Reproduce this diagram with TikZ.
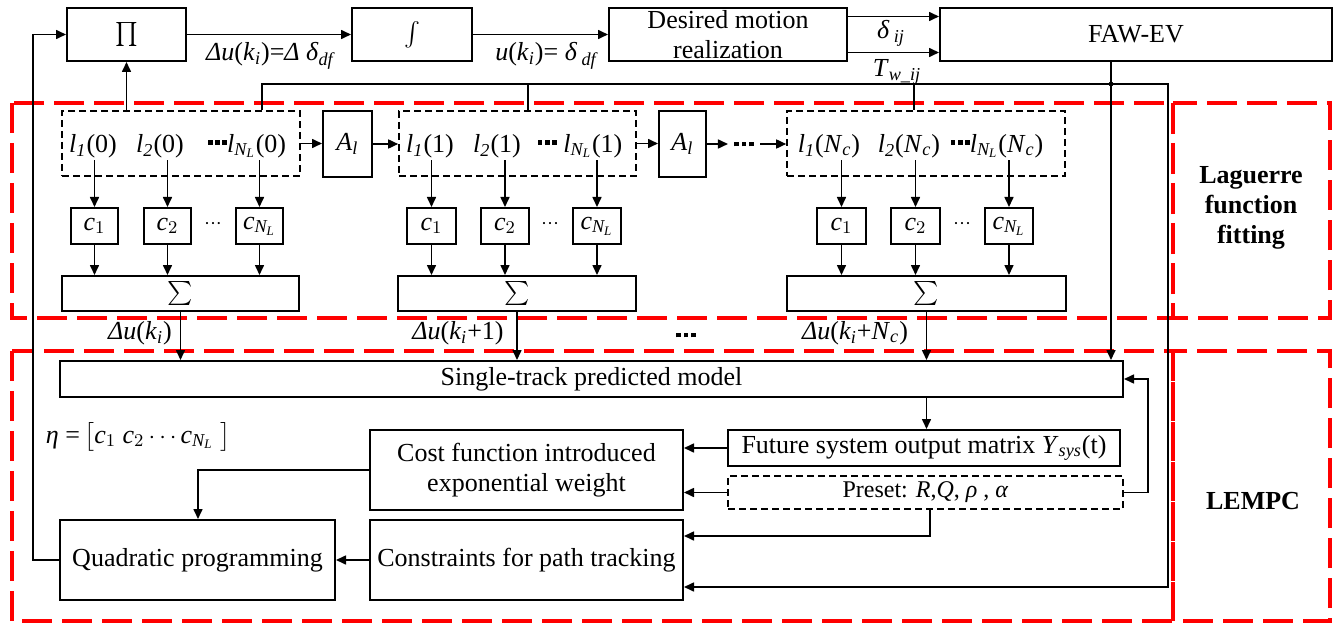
\documentclass[tikz,border=0pt]{standalone}
\usepackage{amsmath}
\usepackage{fontspec}
\setmainfont{Liberation Serif}
\usetikzlibrary{arrows.meta,calc}

% italic letters and italic subscripts in the text font
\newcommand\mv[1]{\textit{#1}}
\newcommand\sbi[1]{$_{\textit{#1}}$}
\newcommand\subNL{$_{\textit{N}_{\textit{L}}}$}
% heavy square dots
\newcommand\sqdot[1]{\raisebox{#1}{\rule{0.18em}{0.18em}}}
\newcommand\heavydots[1][0.28em]{\sqdot{#1}\hspace{0.1em}\sqdot{#1}\hspace{0.1em}\sqdot{#1}}
\newcommand\figfont{\fontsize{13}{15}\selectfont}
% block given by its corners: name, x1, y1, x2, y2, style, text
\newcommand\blockat[7]{\node[#6, minimum width={(#4-#2)*0.5pt}, minimum height={(#5-#3)*0.5pt}] (#1) at ({(#2+#4)/2},{(#3+#5)/2}) {#7};}

\begin{document}
\begin{tikzpicture}[x=0.5pt,y=-0.5pt,font=\figfont,
  box/.style={draw, line width=1pt, inner sep=0pt, align=center, fill=white},
  dbox/.style={draw, line width=0.8pt, dash pattern=on 3.5pt off 2pt, inner sep=0pt, align=center},
  arr/.style={line width=0.8pt, -{Triangle[length=5pt,width=4.5pt]}},
  ln/.style={line width=0.8pt},
  region/.style={draw=red, line width=2pt, dash pattern=on 15pt off 5pt},
  txt/.style={inner sep=0pt}]
\useasboundingbox (0,0) rectangle (1340,626);

% red dashed regions
\draw[region] (12,103) rectangle (1173,318);
\draw[region] (1173,103) rectangle (1330,318);
\draw[region] (12,351) rectangle (1173,621);
\draw[region] (1173,351) rectangle (1330,621);
\node[font=\figfont\bfseries, align=center] (lagtitle) at (1251,208) {Laguerre\\function\\fitting};
\node[font=\figfont\bfseries] (mpctitle) at (1253,501) {LEMPC};

% top row
\blockat{pi}{67}{8}{186}{61}{box}{$\prod$}
\blockat{intg}{352}{8}{472}{61}{box}{$\int$}
\blockat{dmr}{609}{8}{847}{61}{box}{Desired motion\\realization}
\blockat{faw}{940}{8}{1332}{61}{box}{FAW-EV}
\node[txt] (du0) at (270,56) {\mv{Δu}(\mv{k}\sbi{i})=\mv{Δ} \mv{δ}\sbi{df}};
\node[txt] (u0) at (546,56) {\mv{u}(\mv{k}\sbi{i})= \mv{δ}\,\sbi{df}};
\node[txt] (dij) at (891,33) {\mv{δ}\,\sbi{ij}};
\node[txt] (twij) at (897,72) {\mv{T}\sbi{w\_ij}};
\draw[arr] (pi) -- (intg);
\draw[arr] (intg) -- (dmr);
\draw[arr] ([yshift=9pt]dmr.east) -- ([yshift=9pt]faw.west);
\draw[arr] ([yshift=-9pt]dmr.east) -- ([yshift=-9pt]faw.west);

% Laguerre function blocks
\blockat{lb1}{62}{111}{300}{176}{dbox}{}
\blockat{lb2}{399}{111}{636}{176}{dbox}{}
\blockat{lb3}{787}{111}{1065}{176}{dbox}{}
\blockat{al1}{323}{111}{372}{177}{box}{\mv{A}\sbi{l}}
\blockat{al2}{659}{111}{706}{177}{box}{\mv{A}\sbi{l}}
\node[txt] (l1a) at (93,146) {\mv{l}\sbi{1}(0)};
\node[txt] (l2a) at (160,146) {\mv{l}\sbi{2}(0)};
\node[txt] (lna) at (247,146) {\heavydots\mv{l}\subNL(0)};
\node[txt] (l1b) at (430,146) {\mv{l}\sbi{1}(1)};
\node[txt] (l2b) at (497,146) {\mv{l}\sbi{2}(1)};
\node[txt] (lnb) at (580,146) {\heavydots\ \mv{l}\subNL(1)};
\node[txt] (l1c) at (829,146) {\mv{l}\sbi{1}(\mv{N}\sbi{c})};
\node[txt] (l2c) at (909,146) {\mv{l}\sbi{2}(\mv{N}\sbi{c})};
\node[txt] (lnc) at (997,146) {\heavydots\mv{l}\subNL(\mv{N}\sbi{c})};
\node[inner xsep=3pt, inner ysep=0pt] (gd) at (744,144) {\heavydots[0pt]};

\blockat{ca1}{71}{208}{118}{244}{box}{\mv{c}$_1$}
\blockat{ca2}{144}{208}{191}{244}{box}{\mv{c}$_2$}
\blockat{ca3}{236}{208}{283}{244}{box}{\mv{c}\subNL}
\blockat{cb1}{407}{208}{456}{244}{box}{\mv{c}$_1$}
\blockat{cb2}{481}{208}{529}{244}{box}{\mv{c}$_2$}
\blockat{cb3}{573}{208}{621}{244}{box}{\mv{c}\subNL}
\blockat{cc1}{817}{208}{866}{244}{box}{\mv{c}$_1$}
\blockat{cc2}{891}{208}{940}{244}{box}{\mv{c}$_2$}
\blockat{cc3}{985}{208}{1033}{244}{box}{\mv{c}\subNL}
\node[txt, font=\fontsize{9}{9}\selectfont] (da) at (213,226) {···};
\node[txt, font=\fontsize{9}{9}\selectfont] (db) at (550,226) {···};
\node[txt, font=\fontsize{9}{9}\selectfont] (dc) at (962,226) {···};

\blockat{s1}{62}{276}{299}{311}{box}{$\sum$}
\blockat{s2}{398}{276}{636}{311}{box}{$\sum$}
\blockat{s3}{787}{276}{1066}{311}{box}{$\sum$}

\draw[arr] (lb1.east) -- (lb1.east -| al1.west);
\draw[arr] (al1.east) -- (al1.east -| lb2.west);
\draw[arr] (lb2.east) -- (lb2.east -| al2.west);
\draw[arr] (al2.east) -- (al2.east -| gd.west);
\draw[arr] (gd.east) -- (gd.east -| lb3.west);

\foreach \l/\c/\s in {l1a/ca1/s1, l2a/ca2/s1, lna/ca3/s1,
                      l1b/cb1/s2, l2b/cb2/s2, lnb/cb3/s2,
                      l1c/cc1/s3, l2c/cc2/s3, lnc/cc3/s3}{
  \draw[arr] ([yshift=-1pt]\c.north |- \l.south) -- (\c.north);
  \draw[arr] (\c.south) -- (\c.south |- \s.north);
}

% feedback taps from the plant
\coordinate (tapA) at (262,84);
\coordinate (tapB) at (528,84);
\coordinate (tapC) at (914,84);
\coordinate (jn) at (1111,84);
\coordinate (tapR) at (1168,84);
\coordinate (rbend) at (1168,587);
\draw[ln] (tapB |- lb2.north) -- (tapB);
\draw[ln] (tapC |- lb3.north) -- (tapC);
\draw[arr] (pi.south |- lb1.north) -- (pi.south);

% predictive control part
\blockat{stm}{60}{361}{1123}{397}{box}{Single-track predicted model}
\blockat{cost}{370}{430}{683}{510}{box}{Cost function introduced\\exponential weight}
\blockat{fut}{728}{430}{1120}{466}{box}{Future system output matrix \mv{Y}\sbi{sys}(t)}
\blockat{pre}{728}{476}{1123}{509}{dbox}{{\fontsize{12}{14}\selectfont Preset: \mv{R},\mv{Q}, \mv{ρ} , \mv{α}}}
\blockat{cons}{370}{520}{683}{600}{box}{Constraints for path tracking}
\blockat{qp}{60}{520}{335}{600}{box}{Quadratic programming}
\node[txt] (eta) at (138,437) {\mv{η} =\,$\bigl[$\mv{c}$_1$ \mv{c}$_2$\,$\cdots$\mv{c}\subNL\ $\bigr]$};

\node[txt] (dua) at (140,333) {\mv{Δu}(\mv{k}\sbi{i})};
\node[txt] (dub) at (458,333) {\mv{Δu}(\mv{k}\sbi{i}+1)};
\node[txt] (dud) at (686,335) {\heavydots[0pt]};
\node[txt] (duc) at (855,333) {\mv{Δu}(\mv{k}\sbi{i}+\mv{N}\sbi{c})};

\draw[arr] (s1.south) -- (s1.south |- stm.north);
\draw[arr] (s2.south) -- (s2.south |- stm.north);
\draw[arr] (s3.south) -- (s3.south |- stm.north);

\draw[arr] (tapA |- lb1.north) -- (tapA) -- (tapR) -- (rbend) -- (rbend -| cons.east);
\draw[arr] (jn |- faw.south) -- (jn |- stm.north);
\fill (jn) circle (1.2pt);

\draw[arr] (stm.south -| s3.south) -- (fut.north -| s3.south);
\draw[arr] (fut.west) -- (fut.west -| cost.east);
\draw[arr] (pre.west) -- (pre.west -| cost.east);
\draw[arr] (pre.east) -- ++(24,0) |- (stm.east);
\coordinate (pbend) at (930,536);
\draw[arr] (pre.south -| pbend) -- (pbend) -- (pbend -| cons.east);
\draw[arr] (cons.west) -- (cons.west -| qp.east);
\coordinate (cbend) at (198,470);
\draw[arr] (cost.west) -- (cbend) -- (cbend |- qp.north);
\coordinate (lbend) at (33,560);
\draw[arr] (qp.west) -- (lbend) |- (pi.west);
\end{tikzpicture}
\end{document}
